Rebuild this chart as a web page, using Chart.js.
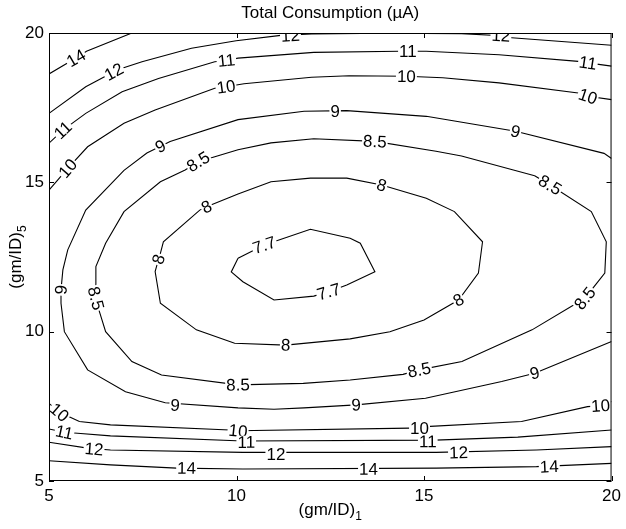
<!DOCTYPE html>
<html>
<head>
<meta charset="utf-8">
<script src="https://cdn.jsdelivr.net/npm/chart.js@4.4.0/dist/chart.umd.min.js"></script>
<style>
  html, body { margin: 0; padding: 0; background: #fff; }
</style>
</head>
<body>
<canvas id="chart" width="626" height="529"></canvas>
<script>
// contour polylines, points are [(gm/ID)1, (gm/ID)5]
const c14Upper = [[5,18.63],[5.72,19.16],[6.0,19.39],[7.21,20]];
const c12Upper = [[5,17.31],[5.98,18.2],[6.73,18.7],[6.95,18.82],[7.48,19.04],[8.8,19.49],[9.99,19.74],[11.18,19.92],[12,19.97],[14,19.99],[16,19.98],[17.05,19.91],[17.16,19.86],[20,19.59]];
const c11Upper = [[5,16.31],[5.37,16.75],[5.98,17.31],[6.95,18.03],[7.92,18.48],[9.42,19.04],[9.73,19.08],[10.04,19.16],[12.06,19.35],[14.35,19.39],[15.06,19.39],[17,19.27],[19.11,19.05],[19.37,19.0],[20,18.89]];
const c10Upper = [[5,14.74],[5.5,15.47],[6.03,16.19],[7.0,16.98],[7.83,17.42],[9.42,18.15],[9.72,18.2],[10.2,18.3],[12,18.52],[13,18.57],[14.53,18.55],[15.5,18.5],[17,18.33],[19.11,17.99],[19.37,17.88],[20,17.77]];
const c9 = [[20,15.8],[19.8,15.97],[17.44,16.71],[15.06,17.21],[12.94,17.4],[11.8,17.38],[10.04,17.1],[8.23,16.37],[7.61,15.98],[7.0,15.4],[5.98,14.07],[5.5,12.74],[5.37,12.07],[5.32,11.4],[5.32,10.95],[5.41,10.0],[6.03,8.72],[7.04,7.99],[8.1,7.62],[10.04,7.45],[11.0,7.4],[11.8,7.45],[13.19,7.55],[15.04,7.77],[17.07,8.33],[17.95,8.61],[20,9.67]];
const c85 = [[17.95,15.22],[18.36,14.91],[19.46,14.02],[19.86,13.01],[19.82,11.96],[19.29,11.12],[17.88,10.06],[16.01,9.0],[14.87,8.72],[14.44,8.57],[13.03,8.38],[11.78,8.27],[10.04,8.22],[8.0,8.55],[7.21,9.0],[6.51,10.0],[6.33,10.73],[6.25,11.12],[6.25,12.18],[6.51,12.96],[7.0,14.02],[7.97,15.02],[8.63,15.41],[8.98,15.69],[10.04,16.09],[10.92,16.32],[12.06,16.46],[13.69,16.37],[15.32,16.04],[16.0,15.88],[17.95,15.22]];
const c8 = [[9.2,14.18],[9.02,14.07],[8.05,13.01],[7.97,12.62],[7.92,12.42],[7.83,12.01],[7.97,10.95],[8.93,10.06],[9.95,9.61],[11.31,9.55],[13.03,9.76],[14.09,10.0],[15.0,10.39],[15.92,11.06],[16.45,11.96],[16.56,13.01],[15.81,14.02],[15.06,14.47],[13.87,14.91],[12.94,15.14],[11.97,15.14],[10.92,15.02],[10.04,14.61],[9.2,14.18]];
const c77 = [[10.04,12.46],[9.86,12.0],[10.17,11.67],[11.0,11.06],[12.06,11.19],[12.46,11.34],[12.94,11.56],[13.69,12.01],[13.3,12.96],[13.03,13.13],[11.97,13.43],[10.74,12.9],[10.04,12.46]];
const c10Lower = [[5,7.6],[5.28,7.3],[5.81,6.99],[6.64,6.88],[9.82,6.71],[10.04,6.68],[14.62,6.77],[14.88,6.77],[15.04,6.82],[17.6,6.99],[19.36,7.49],[19.71,7.52],[20,7.66]];
const c11Lower = [[5,6.74],[5.41,6.63],[5.76,6.6],[6.64,6.51],[10.17,6.34],[15.3,6.37],[17.5,6.47],[20,6.71]];
const c12Lower = [[5,6.3],[6.03,6.1],[6.64,6.04],[10.17,5.96],[15.32,5.96],[18,6.04],[20,6.15]];
const c14Lower = [[5,5.68],[6.64,5.54],[8.4,5.43],[10.17,5.4],[15.32,5.43],[18,5.48],[20,5.59]];

// clabel positions on each line
const lab14Upper = [[5.72,19.16]];
const lab12Upper = [[6.73,18.7],[11.44,19.91],[17.05,19.91]];
const lab11Upper = [[5.37,16.75],[9.73,19.08],[14.57,19.38],[19.37,19.0]];
const lab10Upper = [[5.5,15.47],[9.72,18.2],[14.53,18.55],[19.37,17.88]];
const lab9 = [[7.97,16.21],[12.63,17.38],[17.44,16.71],[5.32,11.4],[8.36,7.54],[13.19,7.55],[17.95,8.61]];
const lab85 = [[8.98,15.69],[13.69,16.37],[18.36,14.91],[6.25,11.12],[10.04,8.22],[14.87,8.72],[19.29,11.12]];
const lab8 = [[9.2,14.18],[13.87,14.91],[7.92,12.42],[11.31,9.55],[15.92,11.06]];
const lab77 = [[10.74,12.9],[12.46,11.34]];
const lab10Lower = [[5.28,7.3],[10.04,6.68],[14.88,6.77],[19.71,7.52]];
const lab11Lower = [[5.41,6.63],[10.26,6.3],[15.1,6.32]];
const lab12Lower = [[6.2,6.07],[11.05,5.9],[15.92,5.95]];
const lab14Lower = [[8.67,5.43],[13.52,5.4],[18.34,5.48]];

const xTicks = [5, 10, 15, 20];
const yTicks = [5, 10, 15, 20];

const contours = [
  { level: '14', pts: c14Upper, labels: lab14Upper },
  { level: '12', pts: c12Upper, labels: lab12Upper },
  { level: '11', pts: c11Upper, labels: lab11Upper },
  { level: '10', pts: c10Upper, labels: lab10Upper },
  { level: '9', pts: c9, labels: lab9 },
  { level: '8.5', pts: c85, labels: lab85 },
  { level: '8', pts: c8, labels: lab8 },
  { level: '7.7', pts: c77, labels: lab77 },
  { level: '10', pts: c10Lower, labels: lab10Lower },
  { level: '11', pts: c11Lower, labels: lab11Lower },
  { level: '12', pts: c12Lower, labels: lab12Lower },
  { level: '14', pts: c14Lower, labels: lab14Lower }
];

const FAMILY = '"Liberation Sans", Arial, Helvetica, sans-serif';
const FS = 17;
Chart.defaults.font.family = FAMILY;
Chart.defaults.font.size = FS;
Chart.defaults.color = '#000';

// inline labels, box, inward ticks and titles
const matlabLook = {
  id: 'matlabLook',
  afterDatasetsDraw(chart) {
    const { ctx, chartArea: a, scales: { x, y } } = chart;
    ctx.save();
    ctx.beginPath();
    ctx.rect(a.left, a.top, a.right - a.left, a.bottom - a.top);
    ctx.clip();
    ctx.font = FS + 'px ' + FAMILY;
    ctx.textAlign = 'center';
    ctx.textBaseline = 'middle';
    contours.forEach(c => {
      const px = c.pts.map(p => [x.getPixelForValue(p[0]), y.getPixelForValue(p[1])]);
      c.labels.forEach(l => {
        const lx = x.getPixelForValue(l[0]), ly = y.getPixelForValue(l[1]);
        let best = Infinity, ang = 0;
        for (let i = 0; i < px.length - 1; i++) {
          const [x1, y1] = px[i], [x2, y2] = px[i + 1];
          const dx = x2 - x1, dy = y2 - y1, len2 = dx * dx + dy * dy || 1;
          let t = ((lx - x1) * dx + (ly - y1) * dy) / len2;
          t = Math.max(0, Math.min(1, t));
          const d = Math.hypot(x1 + t * dx - lx, y1 + t * dy - ly);
          if (d < best) { best = d; ang = Math.atan2(dy, dx); }
        }
        if (ang > Math.PI / 2) ang -= Math.PI;
        if (ang < -Math.PI / 2) ang += Math.PI;
        const w = ctx.measureText(c.level).width;
        ctx.save();
        ctx.translate(lx, ly);
        ctx.rotate(ang);
        ctx.fillStyle = '#fff';
        ctx.fillRect(-w / 2 - 1, -6.5, w + 2, 13);
        ctx.fillStyle = '#000';
        ctx.fillText(c.level, 0, 1);
        ctx.restore();
      });
    });
    ctx.restore();

    ctx.save();
    ctx.strokeStyle = '#000';
    ctx.lineWidth = 1;
    ctx.strokeRect(a.left + 0.5, a.top + 0.5, a.right - a.left - 1, a.bottom - a.top - 1);
    ctx.beginPath();
    xTicks.forEach(v => {
      const p = Math.round(x.getPixelForValue(v)) + 0.5;
      ctx.moveTo(p, a.bottom); ctx.lineTo(p, a.bottom - 5);
      ctx.moveTo(p, a.top); ctx.lineTo(p, a.top + 5);
    });
    yTicks.forEach(v => {
      const p = Math.round(y.getPixelForValue(v)) + 0.5;
      ctx.moveTo(a.left, p); ctx.lineTo(a.left + 5, p);
      ctx.moveTo(a.right, p); ctx.lineTo(a.right - 5, p);
    });
    ctx.stroke();

    ctx.fillStyle = '#000';
    ctx.textBaseline = 'alphabetic';
    ctx.textAlign = 'center';
    ctx.font = FS + 'px ' + FAMILY;
    const cx = (a.left + a.right) / 2;
    ctx.fillText('Total Consumption (\u00b5A)', cx, 18);

    const drawSub = (main, sub, baseX, baseY) => {
      ctx.font = FS + 'px ' + FAMILY;
      const w1 = ctx.measureText(main).width;
      ctx.font = '12px ' + FAMILY;
      const w2 = ctx.measureText(sub).width;
      const start = baseX - (w1 + w2) / 2;
      ctx.textAlign = 'left';
      ctx.font = FS + 'px ' + FAMILY;
      ctx.fillText(main, start, baseY);
      ctx.font = '12px ' + FAMILY;
      ctx.fillText(sub, start + w1, baseY + 5);
    };
    drawSub('(gm/ID)', '1', cx, 515);
    ctx.translate(21, (a.top + a.bottom) / 2);
    ctx.rotate(-Math.PI / 2);
    drawSub('(gm/ID)', '5', 0, 0);
    ctx.restore();
  }
};

new Chart(document.getElementById('chart'), {
  type: 'line',
  data: {
    datasets: contours.map(c => ({
      label: c.level,
      data: c.pts.map(p => ({ x: p[0], y: p[1] })),
      borderColor: '#000',
      borderWidth: 1.1,
      pointRadius: 0,
      fill: false,
      tension: 0
    }))
  },
  options: {
    responsive: false,
    animation: false,
    events: [],
    devicePixelRatio: 1,
    layout: { padding: { top: 33, right: 9, left: 0, bottom: 0 } },
    plugins: { legend: { display: false }, tooltip: { enabled: false } },
    scales: {
      x: {
        type: 'linear', min: 5, max: 20,
        grid: { display: false, drawTicks: false },
        border: { display: false },
        ticks: { stepSize: 5, padding: 5, maxRotation: 0, color: '#000' },
        afterFit: s => { s.height = 48; }
      },
      y: {
        type: 'linear', min: 5, max: 20,
        grid: { display: false, drawTicks: false },
        border: { display: false },
        ticks: { stepSize: 5, padding: 5, color: '#000' },
        afterFit: s => { s.width = 49; }
      }
    }
  },
  plugins: [matlabLook]
});
</script>
</body>
</html>
